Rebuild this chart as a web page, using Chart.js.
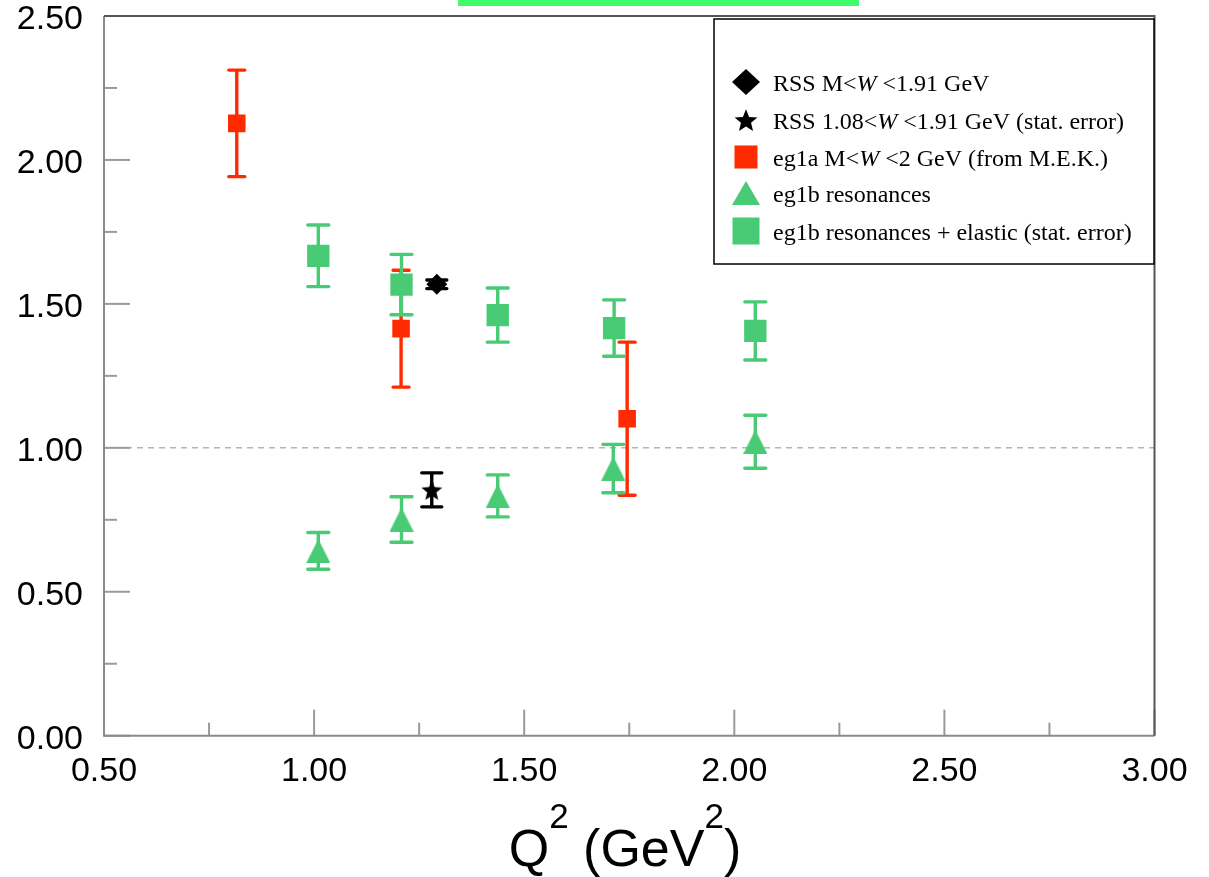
<!DOCTYPE html>
<html lang="en">
<head>
<meta charset="UTF-8">
<title>Q2 dependence</title>
<script src="https://cdn.jsdelivr.net/npm/chart.js"></script>
<style>
    html, body { margin: 0; padding: 0; background: #fff; }
    .wrap { position: relative; width: 1209px; height: 877px; }
</style>
</head>
<body>
<div class="wrap"><canvas id="chart"></canvas></div>
<script>
// values
const eg1aQ2  = [0.816, 1.207, 1.745];
const eg1aVal = [2.127, 1.414, 1.101];
const eg1aErr = [0.185, 0.203, 0.266];

const resQ2  = [1.010, 1.208, 1.437, 1.712, 2.050];
const resVal = [0.642, 0.751, 0.833, 0.928, 1.021];
const resErr = [0.064, 0.079, 0.073, 0.084, 0.092];

const resElQ2  = [1.010, 1.208, 1.437, 1.714, 2.050];
const resElVal = [1.667, 1.567, 1.461, 1.416, 1.406];
const resElErr = [0.107, 0.105, 0.094, 0.098, 0.101];

const rssQ2  = [1.292];
const rssVal = [1.568];
const rssErr = [0.015];

const rssStatQ2  = [1.280];
const rssStatVal = [0.854];
const rssStatErr = [0.059];

const xMajor = [0.5, 1.0, 1.5, 2.0, 2.5, 3.0];
const yMajor = [0.0, 0.5, 1.0, 1.5, 2.0, 2.5];

const RED = '#ff2a00';
const GREEN = '#48cb74';
const BLACK = '#000000';

function toPoints(xs, ys) {
    return xs.map((x, i) => ({ x: x, y: ys[i] }));
}
function isMajor(list, v) {
    return list.some(m => Math.abs(m - v) < 1e-6);
}

// custom marker images
function makeTriangle(w, h, color) {
    const c = document.createElement('canvas');
    c.width = w; c.height = h;
    const g = c.getContext('2d');
    g.fillStyle = color;
    g.beginPath();
    g.moveTo(w / 2, 0);
    g.lineTo(w, h);
    g.lineTo(0, h);
    g.closePath();
    g.fill();
    return c;
}
function makeStar(size, color) {
    const c = document.createElement('canvas');
    c.width = size; c.height = size;
    const g = c.getContext('2d');
    const cx = size / 2, cy = size / 2 + size * 0.05;
    const ro = size / 2, ri = size * 0.22;
    g.fillStyle = color;
    g.beginPath();
    for (let k = 0; k < 10; k++) {
        const r = k % 2 ? ri : ro;
        const ang = -Math.PI / 2 + k * Math.PI / 5;
        const px = cx + r * Math.cos(ang), py = cy + r * Math.sin(ang);
        k ? g.lineTo(px, py) : g.moveTo(px, py);
    }
    g.closePath();
    g.fill();
    return c;
}

const triPlot = makeTriangle(24, 24, GREEN);
const starPlot = makeStar(22, BLACK);
const triLegend = makeTriangle(28, 24, GREEN);
const starLegend = makeStar(24, BLACK);

const legendRows = [
    { marker: 'diamond', color: BLACK, y: 82, parts: [['RSS M<', 0], ['W', 1], [' <1.91 GeV', 0]] },
    { marker: 'star', color: BLACK, y: 120, parts: [['RSS 1.08<', 0], ['W', 1], [' <1.91 GeV (stat. error)', 0]] },
    { marker: 'rect', size: 23, color: RED, y: 157, parts: [['eg1a M<', 0], ['W', 1], [' <2 GeV (from M.E.K.)', 0]] },
    { marker: 'tri', color: GREEN, y: 193, parts: [['eg1b resonances', 0]] },
    { marker: 'rect', size: 27, color: GREEN, y: 231, parts: [['eg1b resonances + elastic (stat. error)', 0]] }
];

const decor = {
    id: 'decor',
    beforeDatasetsDraw(chart) {
        const { ctx, chartArea: a, scales: { x, y } } = chart;
        ctx.save();
        // dashed line at 1
        const y1 = y.getPixelForValue(1);
        ctx.strokeStyle = '#b4b4b4';
        ctx.lineWidth = 1.5;
        ctx.setLineDash([6, 5]);
        ctx.beginPath();
        ctx.moveTo(a.left, y1);
        ctx.lineTo(a.right, y1);
        ctx.stroke();
        ctx.setLineDash([]);

        // error bars
        chart.data.datasets.forEach((ds, i) => {
            const meta = chart.getDatasetMeta(i);
            ctx.strokeStyle = ds.barColor;
            ctx.lineWidth = 3.4;
            ctx.lineCap = 'round';
            meta.data.forEach((pt, j) => {
                const v = ds.data[j].y, e = ds.errors[j];
                const top = y.getPixelForValue(v + e);
                const bot = y.getPixelForValue(v - e);
                const h = ds.capWidth / 2;
                ctx.beginPath();
                ctx.moveTo(pt.x, top); ctx.lineTo(pt.x, bot);
                ctx.moveTo(pt.x - h, top); ctx.lineTo(pt.x + h, top);
                ctx.moveTo(pt.x - h, bot); ctx.lineTo(pt.x + h, bot);
                ctx.stroke();
            });
        });
        ctx.restore();
    },
    afterDraw(chart) {
        const { ctx, chartArea: a, scales: { x, y } } = chart;
        ctx.save();

        // green strip at the top
        ctx.fillStyle = '#40fc6c';
        ctx.fillRect(458, 0, 401, 6);

        // inward ticks
        ctx.strokeStyle = '#9a9a9a';
        ctx.lineWidth = 2;
        x.ticks.forEach(t => {
            const px = x.getPixelForValue(t.value);
            const len = isMajor(xMajor, t.value) ? 26 : 13;
            ctx.beginPath();
            ctx.moveTo(px, a.bottom);
            ctx.lineTo(px, a.bottom - len);
            ctx.stroke();
        });
        y.ticks.forEach(t => {
            const py = y.getPixelForValue(t.value);
            const len = isMajor(yMajor, t.value) ? 26 : 13;
            ctx.beginPath();
            ctx.moveTo(a.left, py);
            ctx.lineTo(a.left + len, py);
            ctx.stroke();
        });

        // frame
        ctx.lineWidth = 2;
        ctx.strokeStyle = '#8a8a8a';
        ctx.beginPath();
        ctx.moveTo(a.left, a.top); ctx.lineTo(a.left, a.bottom); ctx.lineTo(a.right, a.bottom);
        ctx.stroke();
        ctx.strokeStyle = '#555';
        ctx.beginPath();
        ctx.moveTo(a.left, a.top); ctx.lineTo(a.right, a.top); ctx.lineTo(a.right, a.bottom);
        ctx.stroke();

        // axis title with superscripts
        const parts = [['Q', 0], ['2', 1], [' (GeV', 0], ['2', 1], [')', 0]];
        const big = '52px "Liberation Sans", Arial, sans-serif';
        const small = '35px "Liberation Sans", Arial, sans-serif';
        let total = 0;
        parts.forEach(p => { ctx.font = p[1] ? small : big; total += ctx.measureText(p[0]).width; });
        let tx = 625 - total / 2;
        const base = 866;
        ctx.fillStyle = '#000';
        ctx.textBaseline = 'alphabetic';
        ctx.textAlign = 'left';
        parts.forEach(p => {
            ctx.font = p[1] ? small : big;
            ctx.fillText(p[0], tx, p[1] ? base - 38 : base);
            tx += ctx.measureText(p[0]).width;
        });

        // legend box
        const L = 714, T = 19, R = 1154, B = 264;
        ctx.fillStyle = '#fff';
        ctx.fillRect(L, T, R - L, B - T);
        ctx.strokeStyle = '#000';
        ctx.lineWidth = 1.5;
        ctx.strokeRect(L, T, R - L, B - T);
        const mx = 746, textX = 773;
        legendRows.forEach(row => {
            ctx.fillStyle = row.color;
            if (row.marker === 'diamond') {
                ctx.beginPath();
                ctx.moveTo(mx, row.y - 13); ctx.lineTo(mx + 14, row.y);
                ctx.lineTo(mx, row.y + 13); ctx.lineTo(mx - 14, row.y);
                ctx.closePath(); ctx.fill();
            } else if (row.marker === 'star') {
                ctx.drawImage(starLegend, mx - 12, row.y - 12);
            } else if (row.marker === 'tri') {
                ctx.drawImage(triLegend, mx - 14, row.y - 12);
            } else {
                const s = row.size;
                ctx.fillRect(mx - s / 2, row.y - s / 2, s, s);
            }
            let px = textX;
            ctx.fillStyle = '#000';
            row.parts.forEach(p => {
                ctx.font = (p[1] ? 'italic ' : '') + '24px "Liberation Serif", "Times New Roman", serif';
                ctx.fillText(p[0], px, row.y + 9);
                px += ctx.measureText(p[0]).width;
            });
        });
        ctx.restore();
    }
};

Chart.defaults.font.family = '"Liberation Sans", Arial, sans-serif';
Chart.defaults.color = '#000';

new Chart(document.getElementById('chart'), {
    type: 'scatter',
    data: {
        datasets: [
            {
                label: 'RSS M<W<1.91 GeV',
                data: toPoints(rssQ2, rssVal), errors: rssErr,
                barColor: BLACK, capWidth: 20,
                pointStyle: 'rectRot', pointRadius: 10.5, backgroundColor: BLACK
            },
            {
                label: 'RSS 1.08<W<1.91 GeV (stat. error)',
                data: toPoints(rssStatQ2, rssStatVal), errors: rssStatErr,
                barColor: BLACK, capWidth: 20,
                pointStyle: starPlot, pointRadius: 11, backgroundColor: BLACK
            },
            {
                label: 'eg1a M<W<2 GeV (from M.E.K.)',
                data: toPoints(eg1aQ2, eg1aVal), errors: eg1aErr,
                barColor: RED, capWidth: 16,
                pointStyle: 'rect', pointRadius: 12.4, backgroundColor: RED
            },
            {
                label: 'eg1b resonances',
                data: toPoints(resQ2, resVal), errors: resErr,
                barColor: GREEN, capWidth: 21,
                pointStyle: triPlot, pointRadius: 12, backgroundColor: GREEN
            },
            {
                label: 'eg1b resonances + elastic (stat. error)',
                data: toPoints(resElQ2, resElVal), errors: resElErr,
                barColor: GREEN, capWidth: 21,
                pointStyle: 'rect', pointRadius: 15.8, backgroundColor: GREEN
            }
        ]
    },
    options: {
        responsive: true,
        maintainAspectRatio: false,
        animation: false,
        events: [],
        layout: { padding: { left: 0, top: 16, right: 54.5, bottom: 0 } },
        elements: { point: { borderWidth: 0, hoverRadius: 0 } },
        plugins: {
            legend: { display: false },
            tooltip: { enabled: false }
        },
        scales: {
            x: {
                type: 'linear',
                min: 0.5, max: 3.0,
                grid: { display: false },
                border: { display: false },
                ticks: {
                    stepSize: 0.25,
                    autoSkip: false,
                    maxRotation: 0,
                    padding: 8,
                    font: { size: 34 },
                    callback: v => isMajor(xMajor, v) ? v.toFixed(2) : ''
                },
                afterFit: s => { s.height = 141.3; s.paddingLeft = 0; s.paddingRight = 0; }
            },
            y: {
                type: 'linear',
                min: 0, max: 2.5,
                grid: { display: false },
                border: { display: false },
                ticks: {
                    stepSize: 0.25,
                    autoSkip: false,
                    padding: 13,
                    labelOffset: 4,
                    font: { size: 34 },
                    callback: v => isMajor(yMajor, v) ? v.toFixed(2) : ''
                },
                afterFit: s => { s.width = 104; s.paddingTop = 0; s.paddingBottom = 0; }
            }
        }
    },
    plugins: [decor]
});
</script>
</body>
</html>
